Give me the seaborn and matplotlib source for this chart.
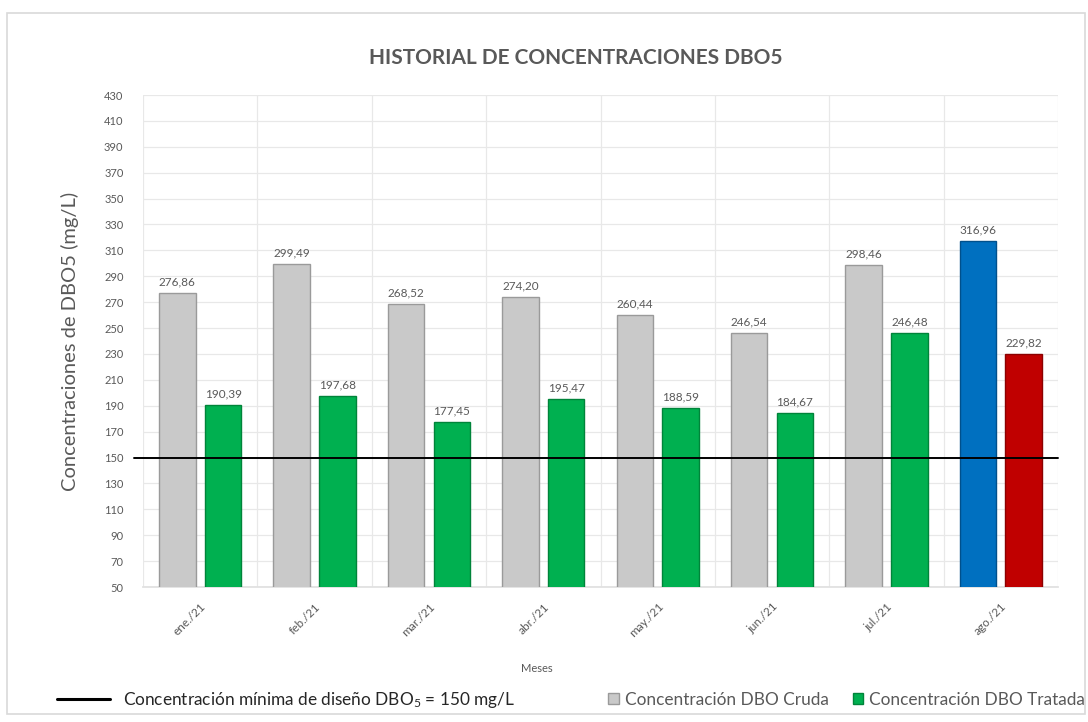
import numpy as np
import pandas as pd
import matplotlib
matplotlib.use("Agg")
import matplotlib.pyplot as plt
import matplotlib.patches as mpatches
from matplotlib.lines import Line2D
import seaborn as sns

# ── DATA ─────────────────────────────────────────────
meses = ["ene./21", "feb./21", "mar./21", "abr./21",
         "may./21", "jun./21", "jul./21", "ago./21"]
dbo_cruda = [276.86, 299.49, 268.52, 274.20, 260.44, 246.54, 298.46, 316.96]
dbo_tratada = [190.39, 197.68, 177.45, 195.47, 188.59, 184.67, 246.48, 229.82]
limite_diseno = 150

serie_cruda = "Concentración DBO Cruda"
serie_tratada = "Concentración DBO Tratada"

df = pd.DataFrame({
    "Mes": meses * 2,
    "Serie": [serie_cruda] * len(meses) + [serie_tratada] * len(meses),
    "Valor": dbo_cruda + dbo_tratada,
})

# ── STYLE ────────────────────────────────────────────
sns.set_theme(style="white")
plt.rcParams["font.family"] = ["Lato", "DejaVu Sans"]
plt.rcParams["mathtext.fontset"] = "custom"
plt.rcParams["mathtext.rm"] = "Lato"
plt.rcParams["mathtext.it"] = "Lato"

GRIS_TXT = "#595959"
C_CRUDA, C_TRATADA = "#C9C9C9", "#00B050"
C_CRUDA_ULT, C_TRATADA_ULT = "#0070C0", "#C00000"

fig = plt.figure(figsize=(10.88, 7.22), dpi=100)
ax = fig.add_axes([143 / 1088, 1 - 587 / 722, (1058 - 143) / 1088, (587 - 95) / 722])

sns.barplot(data=df, x="Mes", y="Valor", hue="Serie", order=meses,
            palette={serie_cruda: C_CRUDA, serie_tratada: C_TRATADA},
            width=0.8, gap=0.2, saturation=1, legend=False, ax=ax, zorder=3)

# bordes y colores especiales del último mes
for bar in ax.containers[0]:
    bar.set_edgecolor("#9A9A9A")
    bar.set_linewidth(1.0)
for bar in ax.containers[1]:
    bar.set_edgecolor("#00843A")
    bar.set_linewidth(1.0)
ax.containers[0][-1].set_facecolor(C_CRUDA_ULT)
ax.containers[0][-1].set_edgecolor("#00508C")
ax.containers[1][-1].set_facecolor(C_TRATADA_ULT)
ax.containers[1][-1].set_edgecolor("#8C0000")

for cont, vals in zip(ax.containers, [dbo_cruda, dbo_tratada]):
    ax.bar_label(cont, labels=[f"{v:.2f}".replace(".", ",") for v in vals],
                 padding=4, fontsize=8.5, color=GRIS_TXT)

ax.axhline(limite_diseno, xmin=-0.01, xmax=1.0, color="black", lw=1.4,
           clip_on=False, zorder=5)

ax.set_ylim(50, 430)
ax.set_xlim(-0.5, len(meses) - 0.5)
ax.set_yticks(np.arange(50, 431, 20))
ax.set_xticks(np.arange(-0.5, len(meses), 1), minor=True)
ax.grid(axis="y", which="major", color="#E8E8E8", lw=0.9, zorder=0)
ax.grid(axis="x", which="minor", color="#E8E8E8", lw=0.9, zorder=0)
ax.tick_params(axis="both", which="both", length=0, colors=GRIS_TXT)
ax.tick_params(axis="y", labelsize=8, pad=14)
ax.tick_params(axis="x", labelsize=8.5, pad=10)
plt.setp(ax.get_xticklabels(), rotation=45, ha="right", rotation_mode="anchor")
for s in ["top", "right", "left"]:
    ax.spines[s].set_visible(False)
ax.spines["bottom"].set_color("#E0E0E0")

ax.set_xlabel("")
fig.text(537 / 1088, 1 - 668 / 722, "Meses", ha="center", va="center",
         fontsize=8, color=GRIS_TXT)
ax.set_ylabel("Concentraciones de DBO5 (mg/L)", fontsize=14.5, color=GRIS_TXT,
              labelpad=18)
fig.text(576 / 1088, 1 - 58 / 722, "HISTORIAL DE CONCENTRACIONES DBO5",
         ha="center", va="center", fontsize=15, fontweight="bold", color=GRIS_TXT)

# ── LEYENDAS ─────────────────────────────────────────
h_linea = [Line2D([0], [0], color="black", lw=2.2)]
leg1 = fig.legend(h_linea, [f"Concentración mínima de diseño DBO$_5$ = {limite_diseno} mg/L"],
                  loc="center left", bbox_to_anchor=(57 / 1088, 1 - 700 / 722),
                  frameon=False, handlelength=3.1, handletextpad=0.75,
                  borderpad=0, borderaxespad=0, fontsize=12.4)
for t in leg1.get_texts():
    t.set_color("#262626")

h_barras = [mpatches.Patch(facecolor=C_CRUDA, edgecolor="#9A9A9A"),
            mpatches.Patch(facecolor=C_TRATADA, edgecolor="#00843A")]
leg2 = fig.legend(h_barras, [serie_cruda, serie_tratada], ncol=2,
                  loc="center right", bbox_to_anchor=(1085 / 1088, 1 - 700 / 722),
                  frameon=False, handlelength=0.6, handleheight=0.6,
                  handletextpad=0.35, columnspacing=1.4,
                  borderpad=0, borderaxespad=0, fontsize=12.4)
for t in leg2.get_texts():
    t.set_color(GRIS_TXT)

# marco exterior
fig.patches.append(mpatches.Rectangle((7 / 1088, 8 / 722), 1078 / 1088, 701 / 722,
                                      transform=fig.transFigure, fill=False,
                                      edgecolor="#D9D9D9", lw=1.2))

plt.savefig("out.png", dpi=100)
